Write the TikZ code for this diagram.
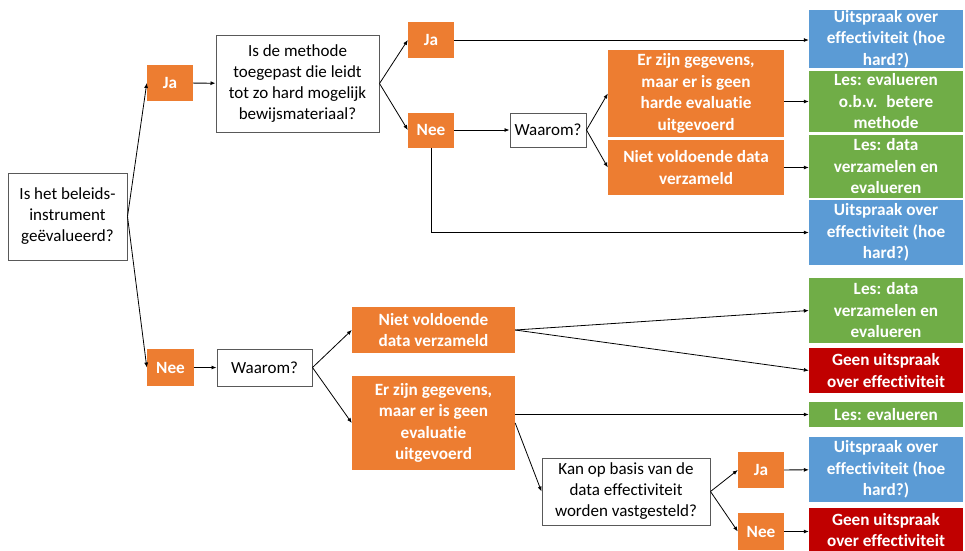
\documentclass[tikz,border=0pt]{standalone}
\usepackage{fontspec}
\setmainfont{Carlito}[Ligatures=NoCommon]
\usetikzlibrary{arrows.meta}
\definecolor{oranje}{HTML}{ED7D31}
\definecolor{blauw}{HTML}{5B9BD5}
\definecolor{groen}{HTML}{70AD47}
\definecolor{rood}{HTML}{C00000}
\definecolor{rand}{HTML}{595959}

\begin{document}
\begin{tikzpicture}[x=1pt, y=-1pt,
  vraag/.style={draw=rand, line width=1pt, fill=white, align=center, inner sep=0pt,
    font=\fontsize{17}{21}\selectfont},
  kleur/.style={fill=#1, text=white, align=center, inner sep=0pt,
    font=\bfseries\fontsize{17.2}{21.5}\selectfont},
  pijl/.style={-{Latex[length=5pt,width=4pt]}, line width=0.8pt},
]
  \useasboundingbox (0,0) rectangle (965,550);

  \node[vraag, minimum width=119, minimum height=87] (q1) at (67.5,216.5) {Is het beleids-\\instrument\\geëvalueerd?};
  \node[kleur=oranje, minimum width=46, minimum height=36] (ja1) at (170,83) {Ja};
  \node[kleur=oranje, minimum width=47, minimum height=37] (nee1) at (170.5,367.5) {Nee};

  \node[vraag, minimum width=163, minimum height=97] (q2) at (297.5,83.5) {Is de methode\\toegepast die leidt\\tot zo hard mogelijk\\bewijsmateriaal?};
  \node[kleur=oranje, minimum width=46, minimum height=36] (ja2) at (431,40) {Ja};
  \node[kleur=oranje, minimum width=46, minimum height=35] (nee2) at (431,130) {Nee};
  \node[vraag, minimum width=76, minimum height=34] (waarom1) at (548,130) {Waarom?};
  \node[kleur=oranje, minimum width=176, minimum height=87] (gegevens1) at (696,93.5) {Er zijn gegevens,\\maar er is geen\\harde evaluatie\\uitgevoerd};
  \node[kleur=oranje, minimum width=176, minimum height=55] (data1) at (696,167.5) {Niet voldoende data\\verzameld};

  \node[vraag, minimum width=95, minimum height=37] (waarom2) at (264.5,367.5) {Waarom?};
  \node[kleur=oranje, minimum width=163, minimum height=46] (data2) at (433.5,330) {Niet voldoende\\data verzameld};
  \node[kleur=oranje, minimum width=163, minimum height=94] (gegevens2) at (433.5,423) {Er zijn gegevens,\\maar er is geen\\evaluatie\\uitgevoerd};
  \node[vraag, minimum width=168, minimum height=67] (q3) at (626,491.5) {Kan op basis van de\\data effectiviteit\\worden vastgesteld?};
  \node[kleur=oranje, minimum width=46, minimum height=36] (ja3) at (761,470) {Ja};
  \node[kleur=oranje, minimum width=46, minimum height=37] (nee3) at (761,531.5) {Nee};

  \node[kleur=blauw, minimum width=154, minimum height=58] (uitspraak1) at (886,39) {Uitspraak over\\effectiviteit (hoe\\hard?)};
  \node[kleur=groen, minimum width=154, minimum height=61] (les1) at (886,101.5) {Les: evalueren\\o.b.v.~ betere\\methode};
  \node[kleur=groen, minimum width=154, minimum height=63] (les2) at (886,166.5) {Les: data\\verzamelen en\\evalueren};
  \node[kleur=blauw, minimum width=154, minimum height=65] (uitspraak2) at (886,232.5) {Uitspraak over\\effectiviteit (hoe\\hard?)};
  \node[kleur=groen, minimum width=154, minimum height=65] (les3) at (886,310.5) {Les: data\\verzamelen en\\evalueren};
  \node[kleur=rood, minimum width=154, minimum height=45] (geen1) at (886,370.5) {Geen uitspraak\\over effectiviteit};
  \node[kleur=groen, minimum width=154, minimum height=25] (les4) at (886,414.5) {Les: evalueren};
  \node[kleur=blauw, minimum width=154, minimum height=65] (uitspraak3) at (886,469.5) {Uitspraak over\\effectiviteit (hoe\\hard?)};
  \node[kleur=rood, minimum width=154, minimum height=45] (geen2) at (886,530) {Geen uitspraak\\over effectiviteit};

  \draw[pijl] (q1.east) -- (ja1.west);
  \draw[pijl] (q1.east) -- (nee1.west);
  \draw[pijl] (ja1) -- (q2);
  \draw[pijl] (q2.east) -- (ja2.west);
  \draw[pijl] (q2.east) -- (nee2.west);
  \draw[pijl] (ja2.east) -- (ja2.east -| uitspraak1.west);
  \draw[pijl] (nee2) -- (waarom1);
  \draw[pijl] (nee2.south) |- (uitspraak2.west);
  \draw[pijl] (waarom1.east) -- (gegevens1.west);
  \draw[pijl] (waarom1.east) -- (data1.west);
  \draw[pijl] (gegevens1.east |- les1) -- (les1.west);
  \draw[pijl] (data1.east) -- (data1.east -| les2.west);

  \draw[pijl] (nee1) -- (waarom2);
  \draw[pijl] (waarom2.east) -- (data2.west);
  \draw[pijl] (waarom2.east) -- (gegevens2.west);
  \draw[pijl] (data2.east) -- (les3.west);
  \draw[pijl] (data2.east) -- (geen1.west);
  \draw[pijl] (gegevens2.east |- les4) -- (les4.west);
  \draw[pijl] (gegevens2.east) -- (q3.west);
  \draw[pijl] (q3.east) -- (ja3.west);
  \draw[pijl] (q3.east) -- (nee3.west);
  \draw[pijl] (ja3) -- (uitspraak3);
  \draw[pijl] (nee3.east) -- (nee3.east -| geen2.west);
\end{tikzpicture}
\end{document}
